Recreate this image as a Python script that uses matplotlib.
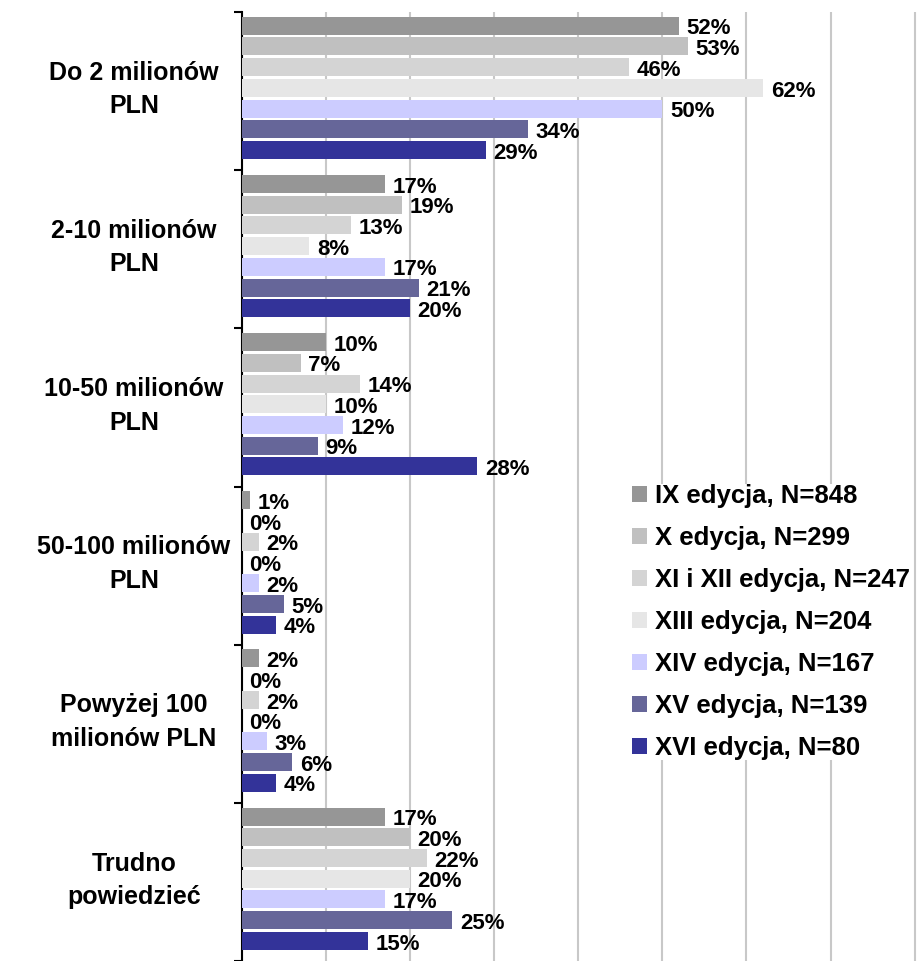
import numpy as np
import matplotlib
matplotlib.use("Agg")
import matplotlib.pyplot as plt
import matplotlib.transforms as mtransforms

plt.rcParams['font.family'] = ['Liberation Sans', 'DejaVu Sans']

# Dane
kategorie = ["Do 2 milionów\nPLN", "2-10 milionów\nPLN", "10-50 milionów\nPLN",
             "50-100 milionów\nPLN", "Powyżej 100\nmilionów PLN", "Trudno\npowiedzieć"]
serie = ["IX edycja, N=848", "X edycja, N=299", "XI i XII edycja, N=247",
         "XIII edycja, N=204", "XIV edycja, N=167", "XV edycja, N=139",
         "XVI edycja, N=80"]
ix = [52, 17, 10, 1, 2, 17]
x_ed = [53, 19, 7, 0, 0, 20]
xi_xii = [46, 13, 14, 2, 2, 22]
xiii = [62, 8, 10, 0, 0, 20]
xiv = [50, 17, 12, 2, 3, 17]
xv = [34, 21, 9, 5, 6, 25]
xvi = [29, 20, 28, 4, 4, 15]
wartosci = [ix, x_ed, xi_xii, xiii, xiv, xv, xvi]
kolory = ["#969696", "#c0c0c0", "#d4d4d4", "#e6e6e6", "#ccccff", "#666699", "#333399"]

fig = plt.figure(figsize=(9.23, 9.61), dpi=100)
ax = fig.add_axes([242 / 923, 0.0, 681 / 923, 1 - 12 / 961])

pitch = 0.131
wys = 0.114
n = len(serie)
for i, (nazwa, vals, kol) in enumerate(zip(serie, wartosci, kolory)):
    y = np.arange(len(kategorie)) + (i - (n - 1) / 2) * pitch - 0.02
    ax.barh(y, vals, height=wys, color=kol, label=nazwa, zorder=3)
    for yy, v in zip(y, vals):
        ax.text(v + 0.9, yy + 0.02, f"{v}%", va="center", ha="left",
                fontsize=16, fontweight="bold", zorder=4)

ax.set_xlim(0, 81)
ax.set_ylim(len(kategorie) - 0.5, -0.5)
ax.set_xticks(np.arange(0, 81, 10))
ax.tick_params(axis="x", length=0, labelbottom=False)
ax.grid(axis="x", color="#c8c8c8", linewidth=1.5, zorder=0)

ax.set_yticks(np.arange(len(kategorie)))
ax.set_yticklabels([])
ax.tick_params(axis="y", which="major", length=0)
ax.set_yticks(np.arange(-0.5, len(kategorie), 1), minor=True)
ax.tick_params(axis="y", which="minor", length=6, width=1.5, direction="out")

trans = mtransforms.blended_transform_factory(ax.transAxes, ax.transData)
for k, lab in enumerate(kategorie):
    ax.text(-108 / 681, k - 0.01, lab, transform=trans, ha="center", va="center",
            fontsize=18, fontweight="bold", linespacing=1.5)

for s in ["top", "right", "bottom"]:
    ax.spines[s].set_visible(False)
ax.spines["left"].set_linewidth(1.5)

leg = ax.legend(loc="upper left", bbox_to_anchor=(390 / 681, (961 - 484) / 949),
                frameon=True, facecolor="white", edgecolor="none", framealpha=1,
                prop={"size": 18.5, "weight": "bold"}, handlelength=0.6,
                handleheight=0.6, handletextpad=0.3, labelspacing=0.7,
                borderpad=0.0, borderaxespad=0.0)
leg.set_zorder(5)

fig.savefig("out.png", dpi=100)
